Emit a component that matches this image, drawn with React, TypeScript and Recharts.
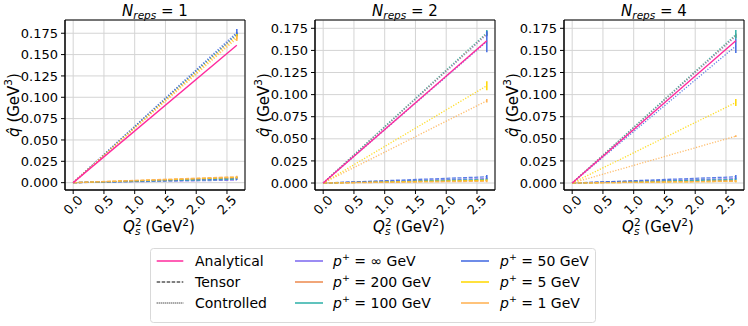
import React from 'react'
import { LineChart, Line, XAxis, YAxis, CartesianGrid, ErrorBar, ReferenceArea } from 'recharts'

// Q_s^2 sample points (GeV^2)
const qs2 = [0, 2.66]
const pLabels = ['∞', '200', '100', '50', '5', '1']
const pColors = ['#7b68ee', '#ec8a4f', '#2fb0a8', '#4169e1', '#ffd700', '#ffb050']
const analyticalColor = '#ff2a9d'

const analytical = [0, 0.161]

// N_reps = 1 : [start, end] per p+
const n1Tensor = [[0, 0.003], [0, 0.006], [0, 0.004], [0, 0.005], [0, 0.006], [0, 0.007]]
const n1TensorErr = [0, 0.001, 0, 0.002, 0.001, 0.001]
const n1Ctrl = [[0, 0.174], [0, 0.173], [0, 0.174], [0, 0.176], [0, 0.171], [0, 0.169]]
const n1CtrlErr = [0.002, 0.002, 0.002, 0.004, 0.003, 0.003]

// N_reps = 2
const n2Tensor = [[0, 0.005], [0, 0.003], [0, 0.004], [0, 0.007], [0, 0.003], [0, 0.002]]
const n2TensorErr = [0.001, 0, 0.001, 0.002, 0.001, 0.001]
const n2Ctrl = [[0, 0.168], [0, 0.169], [0, 0.17], [0, 0.16], [0, 0.11], [0, 0.093]]
const n2CtrlErr = [0.002, 0.002, 0.003, 0.012, 0.005, 0.002]

// N_reps = 4
const n4Tensor = [[0, 0.005], [0, 0.003], [0, 0.004], [0, 0.007], [0, 0.002], [0, 0.002]]
const n4TensorErr = [0.001, 0, 0.001, 0.002, 0.001, 0.001]
const n4Ctrl = [[0, 0.166], [0, 0.167], [0, 0.168], [0, 0.155], [0, 0.091], [0, 0.053]]
const n4CtrlErr = [0.002, 0.002, 0.005, 0.008, 0.004, 0.001]

const xTicks = [0, 0.5, 1, 1.5, 2, 2.5]
const yTicks = [0, 0.025, 0.05, 0.075, 0.1, 0.125, 0.15, 0.175]
const xDomain: [number, number] = [-0.133, 2.793]

const FONT = 'DejaVu Sans, sans-serif'

type Panel = {
  n: number
  tensor: number[][]
  tensorErr: number[]
  ctrl: number[][]
  ctrlErr: number[]
  yDomain: [number, number]
}

const panels: Panel[] = [
  { n: 1, tensor: n1Tensor, tensorErr: n1TensorErr, ctrl: n1Ctrl, ctrlErr: n1CtrlErr, yDomain: [-0.0086, 0.1905] },
  { n: 2, tensor: n2Tensor, tensorErr: n2TensorErr, ctrl: n2Ctrl, ctrlErr: n2CtrlErr, yDomain: [-0.0079, 0.1844] },
  { n: 4, tensor: n4Tensor, tensorErr: n4TensorErr, ctrl: n4Ctrl, ctrlErr: n4CtrlErr, yDomain: [-0.0079, 0.1844] },
]

function buildRows(p: Panel) {
  return qs2.map((x, i) => {
    const last = i === qs2.length - 1
    const row: Record<string, number> = { x, an: analytical[i] }
    p.tensor.forEach((s, k) => {
      row['t' + k] = s[i]
      row['te' + k] = last ? p.tensorErr[k] : 0
    })
    p.ctrl.forEach((s, k) => {
      row['c' + k] = s[i]
      row['ce' + k] = last ? p.ctrlErr[k] : 0
    })
    return row
  })
}

const XTick = (props: any) => {
  const { x, y, payload } = props
  const cy = y + 8
  return (
    <text x={x} y={cy} textAnchor="middle" dominantBaseline="central" fontSize={13} fontFamily={FONT}
      fill="#000" transform={`rotate(-45 ${x} ${cy})`}>
      {Number(payload.value).toFixed(1)}
    </text>
  )
}

const YLabel = (props: any) => {
  const { x, y, height } = props.viewBox
  const cx = x + 14
  const cy = y + height / 2
  return (
    <text x={cx} y={cy} textAnchor="middle" dominantBaseline="central" fontSize={15} fontFamily={FONT}
      fill="#000" transform={`rotate(-90 ${cx} ${cy})`}>
      <tspan fontStyle="italic">q̂</tspan> (GeV<tspan dy={-6} fontSize={10.5}>3</tspan><tspan dy={6}>)</tspan>
    </text>
  )
}

const XLabel = (props: any) => {
  const { x, y, width } = props.viewBox
  return (
    <text x={x + width / 2 + 4} y={y + 42} textAnchor="middle" fontSize={15} fontFamily={FONT} fill="#000">
      <tspan fontStyle="italic">Q</tspan>
      <tspan dy={-6} fontSize={10.5}>2</tspan>
      <tspan dx={-6.5} dy={9} fontSize={10.5} fontStyle="italic">s</tspan>
      <tspan dy={-3}> (GeV</tspan>
      <tspan dy={-6} fontSize={10.5}>2</tspan>
      <tspan dy={6}>)</tspan>
    </text>
  )
}

const makeTitle = (n: number) => (props: any) => {
  const { x, y, width } = props.viewBox
  return (
    <text x={x + width / 2} y={y - 4} textAnchor="middle" fontSize={15} fontFamily={FONT} fill="#000">
      <tspan fontStyle="italic">N</tspan>
      <tspan dy={3} fontSize={10.5} fontStyle="italic">reps</tspan>
      <tspan dy={-3}> = {n}</tspan>
    </text>
  )
}

function PanelChart({ p }: { p: Panel }) {
  const rows = buildRows(p)
  return (
    <LineChart width={249} height={240} data={rows} margin={{ top: 20, right: 4, left: 0, bottom: 0 }}>
      <CartesianGrid stroke="#d4d4d4" strokeWidth={1} />
      <XAxis dataKey="x" type="number" domain={xDomain} ticks={xTicks} interval={0} allowDataOverflow
        height={50} tick={<XTick />} tickSize={4} tickMargin={3}
        axisLine={{ stroke: '#000' }} tickLine={{ stroke: '#000' }} label={{ content: XLabel }} />
      <YAxis type="number" domain={p.yDomain} ticks={yTicks} interval={0} allowDataOverflow width={65}
        tickSize={4} tickMargin={3} tickFormatter={(v: number) => v.toFixed(3)}
        tick={{ fontSize: 13, fontFamily: FONT, fill: '#000' }}
        axisLine={{ stroke: '#000' }} tickLine={{ stroke: '#000' }} label={{ content: YLabel }} />
      {p.tensor.map((_, k) => (
        <Line key={'t' + k} dataKey={'t' + k} stroke={pColors[k]} strokeWidth={1.3} strokeOpacity={0.85}
          strokeDasharray="4 1.6" dot={false} isAnimationActive={false}>
          <ErrorBar dataKey={'te' + k} direction="y" width={0} stroke={pColors[k]} strokeWidth={1.5} isAnimationActive={false} />
        </Line>
      ))}
      {p.ctrl.map((_, k) => (
        <Line key={'c' + k} dataKey={'c' + k} stroke={pColors[k]} strokeWidth={1.3} strokeOpacity={0.85}
          strokeDasharray="1.2 1.6" dot={false} isAnimationActive={false}>
          <ErrorBar dataKey={'ce' + k} direction="y" width={0} stroke={pColors[k]} strokeWidth={1.5} isAnimationActive={false} />
        </Line>
      ))}
      <Line dataKey="an" stroke={analyticalColor} strokeWidth={1.4} dot={false} isAnimationActive={false} />
      <ReferenceArea x1={xDomain[0]} x2={xDomain[1]} y1={p.yDomain[0]} y2={p.yDomain[1]} ifOverflow="visible"
        fill="none" fillOpacity={0} stroke="#000" strokeWidth={1} label={{ content: makeTitle(p.n) }} />
    </LineChart>
  )
}

function LegendBox() {
  const rowsY = [13, 34, 55]
  const styleItems = [
    { label: 'Analytical', color: analyticalColor, dash: undefined as string | undefined, w: 1.5 },
    { label: 'Tensor', color: '#000', dash: '3.5 1.5', w: 1 },
    { label: 'Controlled', color: '#000', dash: '1 1', w: 1 },
  ]
  const cols = [
    { lx: 145, tx: 183 },
    { lx: 311, tx: 350 },
  ]
  return (
    <svg width={450} height={78} style={{ position: 'absolute', left: 150, top: 248 }}>
      <rect x={0.5} y={0.5} width={445} height={74} rx={3} fill="#fff" stroke="#d9d9d9" />
      {styleItems.map((it, i) => (
        <g key={it.label}>
          <line x1={6.7} x2={33.3} y1={rowsY[i]} y2={rowsY[i]} stroke={it.color} strokeWidth={it.w} strokeDasharray={it.dash} />
          <text x={45} y={rowsY[i]} dominantBaseline="central" fontSize={14} fontFamily={FONT} fill="#000">{it.label}</text>
        </g>
      ))}
      {pLabels.map((lab, k) => {
        const c = cols[Math.floor(k / 3)]
        const yy = rowsY[k % 3]
        return (
          <g key={lab}>
            <line x1={c.lx} x2={c.lx + 28} y1={yy} y2={yy} stroke={pColors[k]} strokeWidth={1.8} strokeOpacity={0.85} />
            <text x={c.tx} y={yy} dominantBaseline="central" fontSize={14} fontFamily={FONT} fill="#000">
              <tspan fontStyle="italic">p</tspan>
              <tspan dy={-5} fontSize={9.5}>+</tspan>
              <tspan dy={5}> = {lab} GeV</tspan>
            </text>
          </g>
        )
      })}
    </svg>
  )
}

export default function App() {
  const lefts = [0, 249.5, 498.5]
  return (
    <div style={{ position: 'absolute', left: 0, top: 0, width: 748, height: 326, background: '#fff', overflow: 'hidden' }}>
      {panels.map((p, i) => (
        <div key={p.n} style={{ position: 'absolute', left: lefts[i], top: 0 }}>
          <PanelChart p={p} />
        </div>
      ))}
      <LegendBox />
    </div>
  )
}
